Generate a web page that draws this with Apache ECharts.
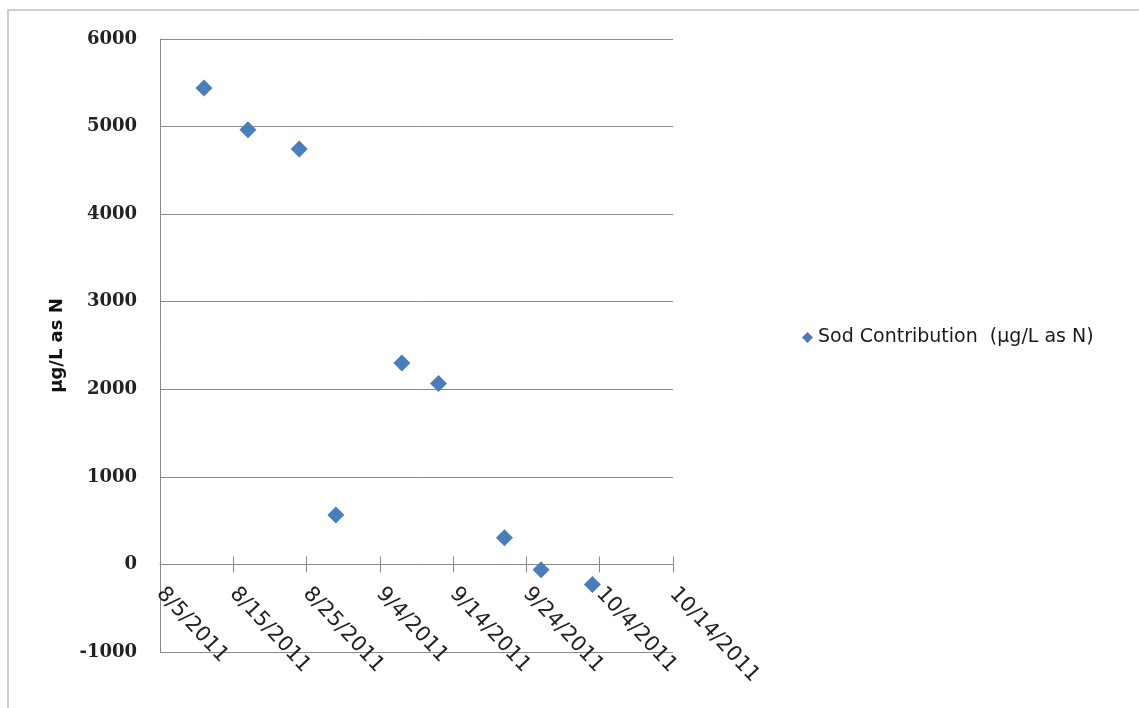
<!DOCTYPE html>
<html>
<head>
<meta charset="utf-8">
<script src="https://cdn.jsdelivr.net/npm/echarts@6/dist/echarts.min.js"></script>
<style>
  html, body { margin: 0; padding: 0; background: #fff; }
  #chart { width: 1139px; height: 708px; }
</style>
</head>
<body>
<div id="chart"></div>
<script>
// Sampling dates and sod contribution (µg/L as N)
const sampleDates = ['8/11/2011', '8/17/2011', '8/24/2011', '8/29/2011', '9/7/2011',
                     '9/12/2011', '9/21/2011', '9/26/2011', '10/3/2011'];
const sodContribution = [5440, 4965, 4745, 565, 2300, 2065, 305, -60, -230];

// Axis ranges
const startDate = '8/5/2011';
const dayStep = 10;
const dayMax = 70;
const yMin = -1000, yMax = 6000, yStep = 1000;

const seriesName = 'Sod Contribution  (\u00b5g/L as N)';
const yTitle = '\u00b5g/L as N';

const DAY_MS = 86400000;
function parseMDY(s) {
  const [m, d, y] = s.split('/').map(Number);
  return Date.UTC(y, m - 1, d);
}
const t0 = parseMDY(startDate);
function dayOffset(s) { return Math.round((parseMDY(s) - t0) / DAY_MS); }
function fmtDay(v) {
  const d = new Date(t0 + v * DAY_MS);
  return (d.getUTCMonth() + 1) + '/' + d.getUTCDate() + '/' + d.getUTCFullYear();
}

const points = sampleDates.map((s, i) => [dayOffset(s), sodContribution[i]]);

// plot box
const W = 1139, H = 708;
const grid = { left: 160, right: 466, top: 39, bottom: 56 };
const plotH = H - grid.top - grid.bottom;
// the date axis sits on the zero line, with its labels hanging below it
const zeroFromBottom = plotH * (0 - yMin) / (yMax - yMin);
const zeroFromTop = plotH * (yMax - 0) / (yMax - yMin);

const gray = '#8a8a8a';
const chart = echarts.init(document.getElementById('chart'));
chart.setOption({
  animation: false,
  backgroundColor: '#fff',
  graphic: [{
    type: 'rect',
    shape: { x: 8, y: 10, width: 1200, height: 800 },
    style: { fill: 'none', stroke: '#cfcfcf', lineWidth: 2 },
    silent: true
  }],
  grid: Object.assign({ containLabel: false, outerBoundsMode: 'none' }, grid),
  legend: {
    data: [{ name: seriesName, icon: 'diamond' }],
    left: 797, top: 323,
    itemWidth: 11, itemHeight: 11, itemGap: 6,
    textStyle: { fontFamily: 'DejaVu Sans', fontSize: 19, color: '#1a1a1a' }
  },
  xAxis: [{
    type: 'value', min: 0, max: dayMax, interval: dayStep,
    position: 'bottom', offset: -zeroFromBottom,
    axisLine: { show: true, onZero: false, lineStyle: { color: gray, width: 1 } },
    axisTick: { show: true, length: 8, lineStyle: { color: gray } },
    splitLine: { show: false },
    axisLabel: {
      rotate: -47, margin: 26,
      fontFamily: 'DejaVu Sans', fontSize: 21, color: '#222',
      formatter: fmtDay
    }
  }, {
    // upper half of the crossing tick marks on the zero line
    type: 'value', min: 0, max: dayMax, interval: dayStep,
    position: 'top', offset: -zeroFromTop,
    axisLine: { show: false, onZero: false },
    axisTick: { show: true, length: 8, lineStyle: { color: gray } },
    axisLabel: { show: false },
    splitLine: { show: false }
  }],
  yAxis: {
    type: 'value', min: yMin, max: yMax, interval: yStep,
    name: yTitle, nameLocation: 'middle', nameGap: 94, nameRotate: 90,
    nameTextStyle: { fontFamily: 'DejaVu Sans', fontWeight: 'bold', fontSize: 18, color: '#111' },
    axisLine: { show: true, onZero: false, lineStyle: { color: gray, width: 1 } },
    axisTick: { show: false },
    splitLine: { show: true, lineStyle: { color: gray, width: 1 } },
    axisLabel: {
      margin: 23,
      fontFamily: 'DejaVu Serif', fontWeight: 'bold', fontSize: 18, color: '#222',
      formatter: v => String(v)
    }
  },
  series: [{
    name: seriesName,
    type: 'scatter',
    xAxisIndex: 0,
    symbol: 'diamond',
    symbolSize: 17,
    itemStyle: { color: '#4a7ebb', opacity: 1 },
    data: points
  }]
});
</script>
</body>
</html>
